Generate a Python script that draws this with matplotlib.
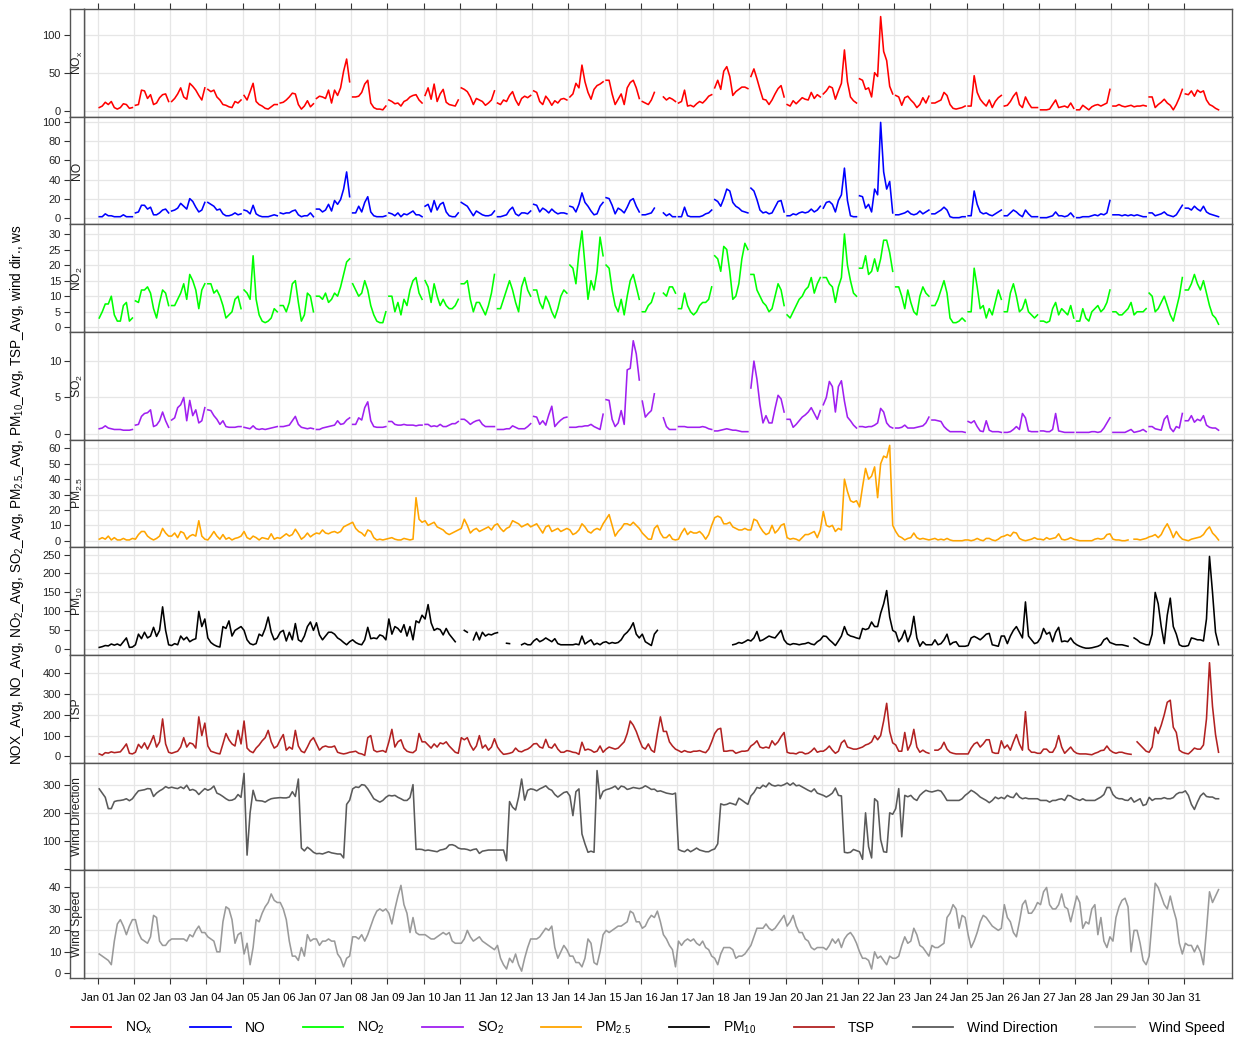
import numpy as np
import pandas as pd
import matplotlib
matplotlib.use("Agg")
import matplotlib.pyplot as plt
import matplotlib.dates as mdates
from matplotlib.lines import Line2D

plt.rcParams["font.family"] = ["Liberation Sans", "DejaVu Sans"]
plt.rcParams["mathtext.default"] = "regular"

# particulates and met data: two-hourly, Jan 01 01:00 .. Jan 31 23:00 (one row per day)
times = pd.date_range("2021-01-01 01:00", periods=372, freq="2h")

# gas analysers: midnight reading missing every day, then odd hours 01:00 .. 23:00
hourly = pd.date_range("2021-01-01", periods=31 * 24, freq="h")
gas_times = hourly[(hourly.hour == 0) | (hourly.hour % 2 == 1)]

nox = [
    None, 4, 6, 11, 8, 12, 4, 2, 4, 9, 8, 3, 4,
    None, 7, 8, 27, 26, 16, 21, 8, 10, 17, 21, 22, 12,
    None, 12, 16, 22, 30, 18, 15, 36, 32, 27, 20, 14, 30,
    None, 28, 25, 27, 18, 14, 8, 7, 5, 4, 12, 10, 14,
    None, 20, 14, 25, 36, 12, 8, 6, 3, 2, 5, 8, 8,
    None, 10, 11, 14, 18, 23, 22, 8, 2, 6, 13, 5, 9,
    None, 16, 19, 18, 16, 27, 10, 27, 20, 30, 52, 68, 38,
    None, 18, 18, 19, 24, 35, 40, 10, 4, 2, 2, 1, 6,
    None, 14, 12, 9, 10, 6, 12, 14, 18, 20, 21, 14, 10,
    None, 20, 30, 15, 35, 12, 22, 28, 11, 8, 7, 6, 14,
    None, 30, 28, 25, 18, 8, 16, 14, 12, 7, 10, 14, 26,
    None, 10, 8, 14, 12, 20, 25, 14, 7, 16, 19, 17, 20,
    None, 26, 24, 12, 8, 19, 14, 7, 13, 10, 15, 16, 14,
    None, 18, 22, 36, 30, 60, 38, 24, 15, 28, 33, 35, 38,
    None, 40, 40, 22, 8, 15, 22, 8, 30, 37, 40, 30, 16,
    None, 12, 10, 8, 14, 24, None, None, 18, 14, 17, 15, 12,
    None, 10, 12, 27, 6, 7, 5, 9, 12, 10, 14, 19, 21,
    None, 30, 40, 28, 52, 58, 45, 20, 25, 28, 31, 31, 29,
    None, 45, 55, 42, 28, 15, 14, 8, 14, 22, 29, 33, 18,
    None, 8, 6, 13, 9, 13, 17, 15, 14, 24, 16, 21, 18,
    None, 22, 26, 32, 30, 15, 26, 36, 80, 38, 18, 13, 10,
    None, 42, 40, 28, 30, 18, 50, 45, 124, 78, 66, 32, 22,
    None, 20, 18, 7, 17, 19, 14, 10, 4, 8, 17, 10, 19,
    None, 10, 10, 12, 14, 24, 20, 8, 3, 2, 3, 4, 6,
    None, 6, 6, 46, 24, 15, 10, 6, 14, 4, 12, 17, 20,
    None, 6, 7, 12, 19, 24, 8, 4, 18, 10, 4, 4, 4,
    None, 1, 1, 1, 2, 8, 14, 4, 5, 6, 4, 10, 3,
    None, 1, 1, 7, 4, 1, 5, 7, 8, 6, 8, 10, 28,
    None, 6, 6, 8, 6, 5, 6, 7, 5, 6, 6, 7, 6,
    None, 18, 18, 4, 8, 11, 15, 10, 7, 1, 8, 17, 28,
    None, 22, 21, 26, 19, 27, 24, 26, 14, 8, 6, 3, 1,
]

no = [
    None, 1, 1, 4, 2, 2, 1, 1, 1, 3, 1, 1, 1,
    None, 5, 6, 13, 13, 9, 11, 3, 3, 5, 8, 9, 5,
    None, 7, 8, 10, 15, 12, 9, 20, 17, 11, 6, 8, 16,
    None, 16, 14, 12, 8, 9, 4, 2, 2, 3, 5, 3, 4,
    None, 8, 7, 4, 13, 4, 2, 1, 1, 1, 2, 3, 2,
    None, 5, 4, 5, 5, 7, 8, 3, 1, 2, 2, 5, 1,
    None, 9, 9, 6, 8, 14, 7, 18, 14, 19, 30, 48, 22,
    None, 5, 5, 12, 6, 16, 22, 6, 2, 1, 1, 1, 2,
    None, 5, 4, 2, 5, 1, 4, 3, 5, 7, 3, 3, 1,
    None, 12, 14, 6, 18, 8, 14, 16, 6, 2, 1, 1, 5,
    None, 16, 14, 12, 7, 2, 7, 5, 3, 2, 2, 3, 7,
    None, 1, 1, 2, 3, 8, 11, 4, 2, 5, 5, 4, 7,
    None, 14, 13, 6, 10, 8, 5, 9, 6, 4, 5, 5, 4,
    None, 12, 11, 6, 14, 26, 16, 12, 7, 3, 4, 12, 16,
    None, 21, 20, 13, 4, 10, 8, 5, 11, 18, 20, 12, 6,
    None, 3, 3, 4, 5, 10, None, None, 5, 2, 4, 1, 1,
    None, 1, 1, 11, 2, 1, 1, 1, 1, 2, 4, 5, 8,
    None, 19, 17, 12, 20, 30, 28, 16, 12, 10, 7, 6, 5,
    None, 31, 28, 19, 8, 5, 6, 4, 5, 11, 17, 18, 6,
    None, 2, 2, 4, 3, 5, 6, 5, 6, 9, 6, 8, 12,
    None, 10, 16, 17, 14, 6, 18, 24, 52, 18, 2, 1, 1,
    None, 23, 22, 10, 14, 6, 30, 24, 100, 48, 30, 38, 5,
    None, 3, 3, 4, 5, 7, 4, 3, 4, 7, 4, 6, 8,
    None, 4, 4, 6, 8, 11, 8, 1, 0, 0, 0, 1, 1,
    None, 2, 2, 28, 14, 6, 4, 5, 3, 2, 4, 6, 8,
    None, 2, 2, 5, 8, 6, 3, 1, 8, 4, 1, 1, 1,
    None, 0, 0, 0, 1, 2, 6, 2, 2, 1, 2, 5, 1,
    None, 0, 0, 1, 1, 1, 2, 3, 2, 4, 3, 5, 18,
    None, 3, 3, 3, 2, 3, 2, 3, 2, 3, 2, 1, 1,
    None, 5, 5, 2, 3, 4, 6, 3, 2, 1, 3, 8, 13,
    None, 10, 10, 8, 12, 9, 7, 12, 6, 4, 3, 2, 1,
]

no2 = [
    None, 3, 5, 7.5, 7.5, 10, 4, 2, 2, 7, 8, 2, 3,
    None, 8.5, 8, 12, 12, 13, 11, 6, 3, 8, 12, 11, 7,
    None, 7, 7, 9, 11, 14, 9, 17, 15, 12, 6, 12, 14,
    None, 14, 14, 11, 12, 10, 7, 3, 4, 5, 9, 10, 6,
    None, 12, 11, 9, 23, 9, 4, 2, 1.5, 2, 3, 6, 5,
    None, 7, 7, 5, 8, 14, 15, 8, 2, 4, 11, 10, 5,
    None, 10, 10, 9, 11, 8, 9, 11, 10, 13, 17, 21, 22,
    None, 14, 12, 10, 11, 15, 12, 7, 4, 2, 1.5, 1.5, 5,
    None, 10, 10, 5, 8, 4, 9, 7, 12, 15, 16, 11, 9,
    None, 15, 13, 8, 14, 10, 7, 9, 7, 6, 6, 7, 9,
    None, 14, 14, 15, 9, 5, 8, 8, 6, 4, 7, 11, 17,
    None, 6, 6, 9, 12, 15, 12, 8, 5, 13, 16, 12, 10,
    None, 12, 12, 8, 6, 10, 8, 5, 3, 6, 10, 12, 11,
    None, 20, 19, 14, 24, 31, 20, 9, 15, 12, 18, 29, 23,
    None, 20, 19, 12, 7, 5, 9, 4, 10, 15, 17, 13, 9,
    None, 5, 5, 7, 8, 11, None, None, 11, 10, 13, 13, 11,
    None, 6, 6, 11, 7, 5, 4, 5, 7, 8, 8, 9, 13,
    None, 23, 22, 18, 26, 25, 18, 9, 10, 14, 22, 27, 25,
    None, 17, 17, 12, 10, 8, 7, 5, 6, 10, 14, 12, 7,
    None, 4, 3, 5, 7, 9, 10, 12, 13, 16, 11, 14, 16,
    None, 16, 16, 14, 13, 8, 13, 16, 30, 20, 15, 11, 10,
    None, 19, 19, 23, 17, 18, 22, 18, 22, 28, 28, 24, 18,
    None, 13, 13, 10, 6, 12, 8, 5, 4, 10, 13, 11, 10,
    None, 7, 7, 9, 12, 15, 11, 3, 1.5, 1.5, 2, 3, 2,
    None, 5, 5, 19, 13, 6, 7, 3, 6, 4, 8, 12, 9,
    None, 5, 5, 11, 14, 10, 5, 6, 9, 5, 4, 3, 4,
    None, 2, 2, 1.5, 2, 6, 8, 4, 6, 5, 4, 7, 3,
    None, 2, 2, 6, 3, 2, 5, 6, 7, 5, 6, 8, 12,
    None, 5, 5, 4, 4, 5, 6, 8, 4, 5, 5, 5, 6,
    None, 11, 10, 5, 6, 8, 10, 7, 4, 2, 6, 10, 16,
    None, 12, 12, 14, 17, 14, 12, 15, 11, 7, 4, 3, 1,
]

so2 = [
    None, 0.7, 0.8, 1.1, 0.8, 0.7, 0.6, 0.6, 0.6, 0.5, 0.5, 0.5, 0.6,
    None, 1.2, 1.3, 2.4, 2.8, 2.9, 3.3, 1.0, 1.2, 1.8, 3.0, 1.8, 0.9,
    None, 1.9, 2.2, 3.6, 4.0, 5.0, 1.8, 4.6, 2.5, 3.3, 1.5, 1.8, 3.6,
    None, 3.3, 3.2, 2.5, 2.0, 1.3, 1.8, 1.0, 0.9, 0.9, 0.9, 1.0, 1.0,
    None, 0.9, 0.8, 0.7, 1.1, 0.7, 0.6, 0.7, 0.6, 0.7, 0.8, 0.9, 1.0,
    None, 1.0, 1.0, 1.1, 1.2, 1.8, 2.4, 1.3, 0.9, 0.8, 0.7, 0.8, 0.7,
    None, 0.6, 0.6, 0.8, 0.9, 1.0, 1.1, 1.2, 1.8, 1.3, 1.4, 1.9, 2.2,
    None, 1.3, 1.3, 2.2, 1.9, 3.6, 4.4, 1.8, 1.0, 0.9, 0.9, 0.9, 1.0,
    None, 1.7, 1.7, 1.3, 1.2, 1.2, 1.3, 1.2, 1.2, 1.2, 1.1, 1.2, 1.2,
    None, 1.3, 1.3, 1.0, 1.1, 1.0, 1.3, 1.0, 1.0, 1.2, 1.4, 1.4, 1.7,
    None, 2.0, 2.0, 1.7, 1.3, 1.6, 1.8, 1.9, 1.3, 1.0, 1.0, 1.0, 1.0,
    None, 0.6, 0.6, 0.6, 0.7, 0.7, 1.1, 0.9, 0.7, 0.7, 0.7, 1.0, 1.4,
    None, 2.4, 2.3, 1.3, 1.8, 1.2, 2.6, 3.8, 1.0, 1.5, 1.9, 2.2, 2.3,
    None, 0.9, 0.9, 0.9, 1.0, 1.0, 1.1, 1.1, 1.3, 1.0, 0.8, 0.6, 2.7,
    None, 4.7, 4.6, 2.0, 1.0, 1.5, 3.2, 1.3, 8.8, 9.0, 12.8, 11.0, 7.4,
    None, 4.5, 2.3, 2.8, 3.2, 5.5, None, None, 2.2, 1.0, 0.6, 0.6, 0.6,
    None, 1.0, 1.0, 1.0, 0.9, 0.9, 0.9, 0.9, 0.9, 1.0, 0.9, 0.7, 0.6,
    None, 0.4, 0.4, 0.5, 0.6, 0.7, 0.6, 0.5, 0.5, 0.4, 0.3, 0.3, 0.3,
    None, 6.3, 10.0, 7.5, 4.0, 1.5, 2.5, 1.5, 1.5, 3.5, 5.3, 4.8, 3.0,
    None, 2.0, 2.0, 0.9, 1.3, 1.8, 2.3, 2.6, 3.0, 3.6, 2.8, 2.0, 3.2,
    None, 4.0, 5.0, 7.2, 6.5, 3.0, 6.5, 7.3, 4.5, 2.3, 1.8, 1.2, 0.8,
    None, 1.0, 1.0, 0.9, 1.0, 1.0, 1.2, 1.5, 3.5, 3.0, 1.5, 1.0, 0.8,
    None, 0.8, 0.8, 0.9, 1.2, 0.8, 0.8, 0.8, 0.9, 1.0, 1.1, 1.5, 2.3,
    None, 1.9, 1.9, 1.8, 1.7, 1.0, 0.6, 0.3, 0.3, 0.3, 0.3, 0.3, 0.2,
    None, 1.7, 1.5, 1.8, 1.0, 0.4, 0.3, 1.8, 0.5, 0.3, 0.3, 0.3, 0.2,
    None, 0.2, 0.2, 0.3, 0.6, 1.0, 0.6, 2.8, 2.2, 0.4, 0.3, 0.3, 0.3,
    None, 0.4, 0.4, 0.3, 0.3, 0.6, 2.8, 0.4, 0.3, 0.2, 0.2, 0.2, 0.2,
    None, 0.2, 0.2, 0.2, 0.2, 0.2, 0.3, 0.3, 0.2, 0.3, 0.8, 1.5, 2.2,
    None, 0.2, 0.2, 0.2, 0.2, 0.2, 0.4, 0.6, 0.2, 0.3, 0.4, 0.6, 0.3,
    None, 1.0, 1.0, 0.7, 0.6, 0.5, 2.0, 2.5, 0.8, 0.3, 1.0, 0.8, 2.8,
    None, 1.8, 1.8, 2.5, 1.6, 2.0, 1.8, 2.5, 1.2, 0.9, 0.8, 0.8, 0.5,
]

pm25 = [
    1, 2, 1, 3, 0.5, 2, 0.5, 0.5, 1.5, 0.5, 0.5, 1.5,
    1, 4, 6, 6, 3, 1.5, 0.5, 1.5, 3, 8, 5, 3,
    3, 5, 2, 6, 5, 1, 3, 4, 3, 13, 3, 1,
    0.5, 3, 6, 3, 1, 4, 1, 2, 0.5, 1.5, 2, 3,
    6, 2, 1, 3, 2, 0.5, 2, 1.5, 1, 4.5, 1, 2,
    1.5, 3, 4.5, 3, 4, 7.5, 4.5, 1, 2.5, 5, 2.5, 4,
    5, 4.5, 7, 5, 4.5, 5.5, 6, 5, 6, 9, 10, 11,
    12, 8, 6, 5, 3, 7, 6, 2, 0.5, 1, 0.5, 1,
    1.5, 2, 1, 0.5, 0.5, 1.5, 1, 0.5, 1, 28, 14, 12,
    13, 10, 11, 12, 9, 8, 7, 5, 4, 5, 6, 7,
    8, 14, 10, 5, 7, 8, 6, 7, 8, 9, 7, 10,
    11, 8, 6, 8, 9, 13, 12, 11, 9, 10, 11, 9,
    10, 11, 8, 5, 9, 10, 6, 7, 8, 6, 7, 8,
    7, 4, 5, 7, 11, 9, 6, 5, 7, 8, 7, 11,
    14, 17, 10, 3, 6, 8, 11, 11, 10, 12, 10, 8,
    5, 3, 1, 1, 8, 10, 5, 2, 2, 4, 1, 0.5,
    1, 5, 8, 4, 6, 5, 5, 6, 4, 1, 4, 10,
    15, 16, 15, 11, 11, 12, 9, 8, 7, 7, 8, 7,
    7, 14, 13, 9, 6, 4, 5, 10, 5, 7, 10, 11,
    2, 1, 1.5, 1, 0, 2, 4, 4, 5, 6, 2, 7,
    19, 10, 9, 10, 6, 8, 7, 40, 32, 26, 25, 26,
    22, 35, 47, 40, 42, 48, 28, 50, 55, 54, 62, 10,
    6, 3, 2, 0.5, 1.5, 2, 5, 2, 1, 1.5, 1, 0.5,
    1, 1.5, 0.5, 1, 0.5, 1.5, 0.5, 0, 0, 0, 0, 0.5,
    0.5, 0, 0.5, 1.5, 0.5, 0, 1.5, 1.5, 0.5, 0, 1, 2.5,
    3, 4, 3, 5.5, 5, 1.5, 0.5, 0, 0.5, 1, 2, 1,
    1, 0.5, 2, 1, 1.5, 2, 4.5, 1, 0.5, 1, 2, 1,
    0.5, 0, 0, 0, 0, 0, 1, 1.5, 1, 1.5, 4, 4.5,
    1, 0.5, 0.5, 0, 0, 0.5, None, 1, 1, 0.5, 1, 1.5,
    2.5, 3, 4, 2, 4, 8, 11, 7, 2, 6, 3, 1,
    0.5, 0, 1, 1.5, 2, 2.5, 4, 7, 9, 5, 3, 0.5,
]

pm10 = [
    5, 7, 10, 9, 14, 11, 14, 10, 20, 30, 5, 6,
    12, 40, 28, 45, 30, 35, 58, 34, 50, 112, 50, 12,
    10, 15, 12, 35, 25, 32, 20, 25, 28, 100, 60, 80,
    30, 18, 12, 8, 6, 60, 55, 75, 35, 50, 55, 60,
    50, 25, 15, 12, 15, 40, 35, 55, 85, 45, 25, 30,
    45, 50, 22, 45, 25, 68, 25, 20, 35, 60, 72, 50,
    70, 38, 25, 35, 45, 45, 40, 30, 25, 18, 12, 20,
    25, 18, 14, 12, 25, 58, 28, 30, 28, 38, 35, 25,
    80, 40, 60, 55, 45, 65, 35, 60, 25, 75, 70, 90,
    80, 118, 70, 50, 55, 52, 38, 55, 40, 30, 20, None,
    None, 50, 45, None, 25, 45, 25, 45, 35, 40, 38, 42,
    44, None, None, 16, 15, None, None, None, 12, 16, 12, 12,
    22, 28, 20, 24, 30, 25, 20, 28, 15, 12, 12, 12,
    12, 12, 14, 12, 35, 14, 20, 25, 12, 16, 12, 18,
    20, 15, 18, 16, 18, 25, 38, 45, 55, 70, 40, 30,
    40, 20, 15, 10, 40, 50, None, None, None, None, None, None,
    None, None, None, None, None, None, None, None, None, None, None, None,
    None, None, None, None, None, None, 12, 14, 18, 16, 20, 25,
    22, 30, 47, 22, 25, 30, 35, 32, 30, 40, 50, 25,
    15, 12, 15, 14, 12, 14, 15, 18, 14, 12, 20, 25,
    35, 34, 25, 18, 10, 22, 35, 60, 40, 35, 33, 30,
    28, 55, 52, 55, 72, 60, 60, 95, 120, 155, 85, 50,
    45, 20, 30, 50, 20, 40, 87, 30, 8, 20, 12, 12,
    12, 25, 12, 15, 25, 40, 12, 18, 20, 8, 8, 8,
    10, 30, 34, 30, 25, 32, 40, 42, 12, 10, 8, 35,
    35, 15, 35, 50, 60, 45, 30, 125, 35, 25, 15, 18,
    30, 55, 40, 45, 20, 45, 58, 20, 22, 20, 30, 18,
    12, 8, 5, 3, 3, 4, 6, 8, 12, 25, 30, 18,
    15, 12, 12, 12, 10, 8, None, 30, 25, 18, 15, 12,
    12, 40, 150, 120, 60, 15, 90, 135, 60, 40, 12, 8,
    8, 10, 30, 28, 25, 25, 22, 80, 245, 150, 45, 12,
]

tsp = [
    12, 6, 18, 16, 22, 18, 20, 22, 40, 60, 15, 12,
    20, 58, 40, 65, 35, 65, 100, 45, 70, 180, 60, 20,
    15, 20, 25, 45, 90, 45, 65, 60, 40, 190, 100, 160,
    50, 25, 20, 15, 12, 60, 110, 80, 60, 50, 125, 60,
    170, 40, 25, 18, 40, 55, 75, 90, 125, 70, 40, 50,
    80, 105, 30, 45, 35, 125, 50, 25, 18, 45, 75, 90,
    60, 30, 45, 50, 45, 45, 50, 20, 15, 12, 15, 20,
    22, 25, 15, 12, 5, 90, 100, 30, 22, 25, 28, 20,
    70, 130, 45, 70, 80, 40, 25, 20, 18, 30, 110, 70,
    70, 55, 40, 60, 45, 65, 60, 70, 50, 35, 20, 15,
    90, 80, 90, 55, 30, 50, 100, 40, 55, 30, 45, 85,
    45, 25, 10, 12, 15, 20, 40, 25, 22, 30, 35, 45,
    60, 62, 45, 40, 82, 45, 40, 60, 35, 20, 20, 28,
    25, 20, 18, 10, 68, 30, 35, 30, 20, 25, 50, 20,
    35, 45, 40, 35, 40, 55, 70, 110, 170, 150, 120, 80,
    45, 35, 60, 30, 20, 110, 190, 120, 120, 70, 50, 35,
    28, 20, 28, 22, 20, 25, 25, 28, 22, 18, 35, 70,
    110, 130, 135, 25, 25, 28, 28, 15, 20, 25, 25, 28,
    50, 60, 75, 45, 40, 45, 40, 75, 55, 70, 95, 115,
    20, 15, 15, 12, 20, 20, 12, 15, 25, 40, 20, 25,
    25, 35, 50, 30, 15, 25, 65, 78, 45, 40, 35, 35,
    40, 45, 55, 60, 70, 100, 80, 100, 170, 255, 120, 65,
    55, 25, 25, 115, 30, 60, 130, 45, 20, 30, 20, 15,
    None, 30, 30, 40, 68, 35, 20, 15, 12, 12, 12, 12,
    12, 40, 60, 68, 45, 60, 80, 80, 20, 15, 15, 75,
    40, 55, 30, 70, 105, 60, 30, 215, 35, 20, 20, 15,
    15, 35, 35, 20, 20, 45, 100, 45, 15, 30, 45, 25,
    15, 12, 12, 12, 10, 8, 15, 20, 28, 30, 50, 30,
    20, 15, 20, 20, 15, 12, 10, None, 70, 55, 40, 25,
    20, 45, 140, 110, 150, 200, 260, 270, 140, 115, 30, 20,
    15, 12, 25, 40, 35, 35, 55, 180, 450, 240, 105, 20,
]

wind_dir = [
    285, 270, 255, 215, 215, 240, 243, 244, 246, 250, 243, 250,
    265, 278, 280, 282, 286, 285, 258, 270, 278, 284, 293, 288,
    291, 288, 286, 292, 286, 298, 280, 283, 278, 265, 276, 286,
    280, 285, 295, 270, 265, 258, 250, 244, 245, 250, 265, 255,
    340, 50, 200, 280, 244, 243, 242, 238, 245, 250, 252, 253,
    254, 253, 253, 256, 275, 258, 320, 75, 65, 78, 70, 60,
    55, 56, 54, 58, 62, 58, 56, 54, 54, 40, 230, 245,
    285, 292, 290, 300, 298, 285, 268, 250, 244, 238, 244, 255,
    262, 260, 262, 255, 250, 244, 244, 254, 300, 70, 71, 70,
    66, 68, 66, 64, 62, 68, 70, 74, 86, 87, 83, 75,
    72, 72, 70, 66, 70, 72, 56, 64, 66, 68, 68, 68,
    68, 68, 68, 30, 240, 220, 210, 256, 320, 245, 280, 285,
    283, 278, 285, 290, 296, 285, 280, 265, 256, 264, 272, 275,
    260, 190, 275, 285, 125, 90, 60, 64, 60, 350, 250, 276,
    282, 285, 289, 295, 283, 295, 292, 283, 286, 290, 288, 286,
    289, 296, 290, 283, 284, 276, 278, 274, 270, 268, 266, 270,
    70, 65, 62, 70, 62, 68, 75, 68, 65, 62, 62, 68,
    72, 90, 232, 228, 230, 235, 232, 228, 252, 245, 237, 230,
    260, 272, 290, 287, 298, 292, 306, 298, 295, 298, 296, 300,
    306, 298, 306, 296, 298, 292, 286, 280, 275, 285, 270, 266,
    262, 256, 262, 270, 288, 262, 260, 60, 58, 60, 70, 66,
    62, 35, 200, 80, 40, 250, 240, 105, 62, 60, 200, 195,
    215, 286, 115, 262, 257, 262, 250, 244, 262, 272, 280, 276,
    274, 277, 280, 277, 262, 244, 244, 244, 244, 244, 250, 262,
    270, 280, 274, 266, 256, 250, 244, 236, 244, 256, 250, 255,
    250, 262, 256, 254, 270, 256, 250, 253, 250, 250, 250, 250,
    244, 244, 244, 238, 244, 244, 248, 250, 244, 262, 260, 252,
    248, 244, 250, 244, 244, 244, 244, 250, 256, 265, 290, 290,
    265, 254, 250, 250, 245, 244, 254, 238, 244, 250, 226, 230,
    255, 244, 250, 250, 250, 254, 250, 250, 254, 266, 272, 272,
    278, 262, 230, 212, 238, 260, 270, 258, 256, 256, 250, 250,
]

wind_speed = [
    9, 8, 7, 6, 4, 15, 23, 25, 22, 18, 22, 25,
    25, 19, 16, 15, 14, 17, 27, 26, 15, 13, 13, 15,
    16, 16, 16, 16, 16, 15, 18, 17, 20, 22, 19, 19,
    17, 16, 15, 10, 10, 24, 31, 30, 25, 14, 18, 19,
    9, 14, 4, 12, 25, 24, 28, 31, 33, 37, 34, 33,
    33, 30, 25, 15, 8, 8, 6, 12, 8, 18, 15, 16,
    16, 13, 15, 15, 16, 15, 15, 9, 7, 3, 7, 8,
    17, 17, 16, 18, 15, 18, 22, 26, 29, 30, 29, 30,
    28, 23, 30, 36, 41, 32, 28, 19, 26, 19, 18, 18,
    18, 17, 16, 16, 17, 18, 19, 18, 19, 15, 14, 14,
    14, 16, 20, 17, 15, 16, 17, 15, 14, 13, 12, 11,
    13, 7, 4, 2, 7, 5, 9, 4, 1, 7, 12, 16,
    16, 16, 17, 19, 21, 20, 22, 12, 7, 10, 13, 11,
    8, 8, 5, 5, 3, 7, 16, 14, 5, 4, 10, 18,
    20, 19, 20, 21, 22, 22, 23, 24, 29, 28, 24, 24,
    21, 22, 25, 27, 26, 29, 24, 18, 16, 13, 11, 3,
    15, 13, 15, 16, 15, 16, 14, 13, 15, 12, 11, 8,
    7, 4, 9, 12, 12, 12, 11, 7, 8, 8, 9, 11,
    13, 17, 21, 21, 21, 23, 21, 20, 21, 23, 25, 27,
    22, 24, 27, 22, 19, 19, 16, 15, 12, 11, 12, 12,
    12, 11, 13, 16, 14, 16, 12, 16, 18, 19, 17, 14,
    10, 7, 7, 6, 2, 10, 7, 8, 6, 4, 8, 7,
    7, 8, 13, 17, 14, 15, 21, 18, 13, 12, 10, 8,
    13, 12, 12, 13, 14, 26, 28, 32, 30, 21, 27, 26,
    18, 12, 15, 19, 24, 27, 26, 24, 22, 21, 20, 21,
    32, 26, 24, 19, 17, 24, 32, 34, 28, 28, 30, 33,
    32, 38, 40, 32, 30, 30, 32, 37, 31, 30, 24, 30,
    36, 33, 21, 24, 23, 30, 32, 18, 26, 15, 12, 17,
    15, 26, 31, 34, 35, 31, 10, 20, 20, 14, 6, 4,
    8, 25, 42, 40, 36, 32, 30, 36, 30, 25, 14, 9,
    14, 13, 13, 10, 13, 10, 4, 20, 38, 33, 36, 39,
]

# time axis, series, strip label, colour, y ticks, y limits
panels = [
    (gas_times, nox, "NO$_x$", "#FF0000", [0, 50, 100], (-8, 134)),
    (gas_times, no, "NO", "#0000FF", [0, 20, 40, 60, 80, 100], (-7, 106)),
    (gas_times, no2, "NO$_2$", "#00FF00", [0, 5, 10, 15, 20, 25, 30], (-1.5, 33.1)),
    (gas_times, so2, "SO$_2$", "#A020F0", [0, 5, 10], (-0.8, 14.0)),
    (times, pm25, "PM$_{2.5}$", "#FFA500", [0, 10, 20, 30, 40, 50, 60], (-4.3, 65.7)),
    (times, pm10, "PM$_{10}$", "#000000", [0, 50, 100, 150, 200, 250], (-15, 269)),
    (times, tsp, "TSP", "#B22222", [0, 100, 200, 300, 400], (-30, 487)),
    (times, wind_dir, "Wind Direction", "#5A5A5A", [0, 100, 200, 300], (-4, 378)),
    (times, wind_speed, "Wind Speed", "#9A9A9A", [0, 10, 20, 30, 40], (-2.2, 48)),
]

W, H = 1236, 1038
fig = plt.figure(figsize=(W / 100, H / 100), dpi=100)

x_strip, x_left, x_right = 70, 84, 1232
y_top, y_bot = 9, 978
ph = (y_bot - y_top) / len(panels)

day0 = pd.Timestamp("2021-01-01")
day_ticks = pd.date_range(day0, periods=31, freq="D")
xlim = (day0 - pd.Timedelta(hours=9.1), day0 + pd.Timedelta(days=31.33))
frame = "#555555"
last = len(panels) - 1

for i, (t, vals, label, color, yticks, ylim) in enumerate(panels):
    y0 = 1 - (y_top + (i + 1) * ph) / H
    ax = fig.add_axes([x_left / W, y0, (x_right - x_left) / W, ph / H])
    sx = fig.add_axes([x_strip / W, y0, (x_left - x_strip) / W, ph / H], sharey=ax)

    ax.plot(t, np.array(vals, dtype=float), color=color, lw=1.15)
    ax.set_xlim(xlim)
    ax.set_ylim(ylim)
    ax.set_xticks(day_ticks)
    ax.xaxis.set_major_formatter(mdates.DateFormatter("%b %d"))
    ax.grid(True, color="#E6E6E6", lw=0.9)
    ax.set_axisbelow(True)
    ax.tick_params(axis="y", left=False, labelleft=False)
    ax.tick_params(axis="x", bottom=(i == last), labelbottom=(i == last),
                   top=(i == 0), labeltop=False, direction="out", length=4.5, width=0.8,
                   color="#333333", labelsize=8, pad=6)

    # left strip holds the y axis and the panel name
    sx.set_xticks([])
    if label == "Wind Direction":
        sx.set_yticks(yticks, ["" if v == 0 else str(v) for v in yticks])
    else:
        sx.set_yticks(yticks)
    sx.tick_params(axis="y", left=True, labelleft=True, length=4.5, width=0.8,
                   color="#333333", labelsize=8, pad=2, labelcolor="#222222")
    sx.text(0.5, 0.5, label, rotation=90, transform=sx.transAxes,
            ha="center", va="center", fontsize=8.7, color="#222222")

    for a in (ax, sx):
        for sp in a.spines.values():
            sp.set_color(frame)
            sp.set_linewidth(1.0)

fig.text(17 / W, 1 - 495 / H,
         "NOX_Avg, NO_Avg, NO$_2$_Avg, SO$_2$_Avg, PM$_{2.5}$_Avg, "
         "PM$_{10}$_Avg, TSP_Avg, wind dir., ws",
         rotation=90, ha="center", va="center", fontsize=9.8)

handles = [Line2D([], [], color=p[3], lw=1.3) for p in panels]
fig.legend(handles, [p[2] for p in panels], loc="center",
           bbox_to_anchor=(648 / W, 1 - 1028 / H), ncol=len(panels), frameon=False,
           fontsize=10, handlelength=2.9, handletextpad=1.0, columnspacing=2.7)

fig.savefig("out.png", dpi=100)
